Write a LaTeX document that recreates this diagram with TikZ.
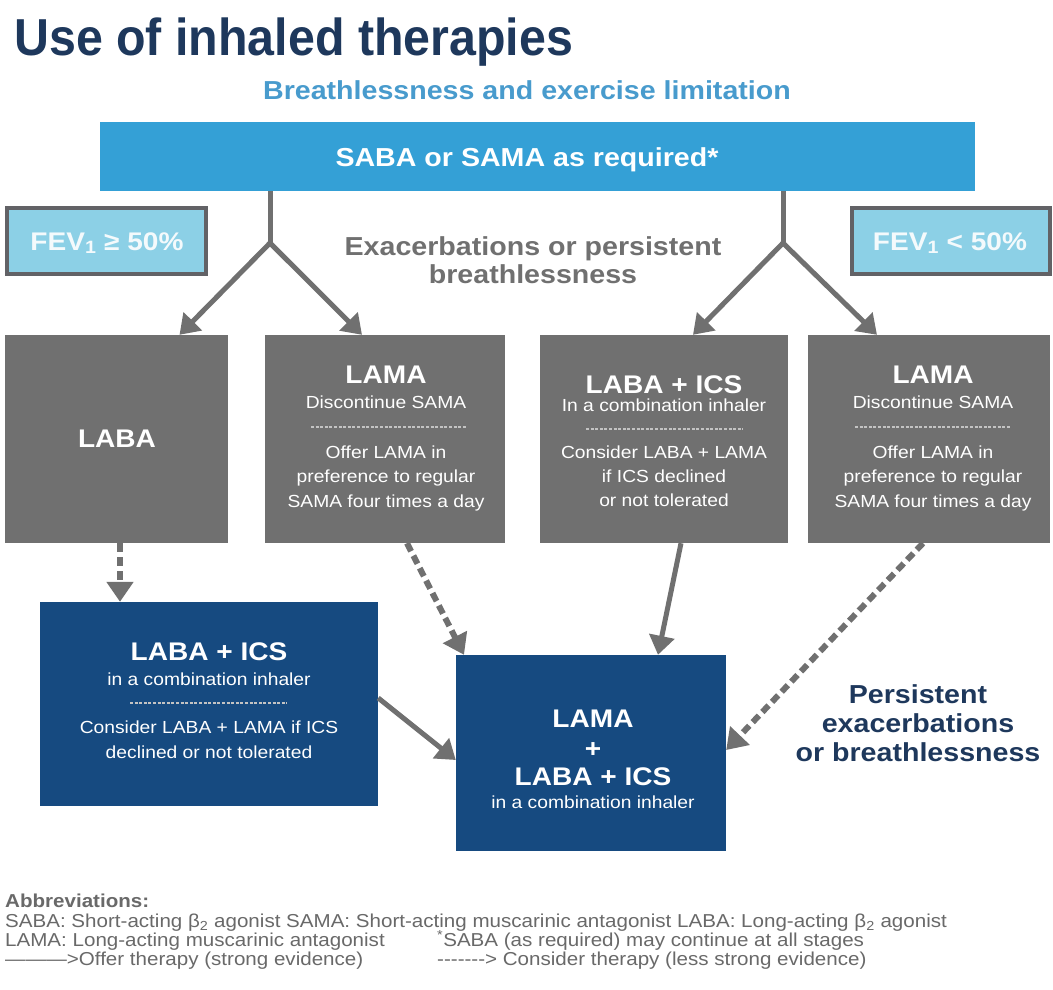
\documentclass[tikz,border=0pt]{standalone}
\usepackage{fontspec}
\setmainfont{Liberation Sans}[FakeStretch=1.1]
\newfontfamily\titlefont{Liberation Sans}[FakeStretch=0.93]
\usetikzlibrary{arrows.meta}

\definecolor{navy}{RGB}{30,56,92}
\definecolor{subblue}{RGB}{72,155,205}
\definecolor{barblue}{RGB}{52,160,214}
\definecolor{fevfill}{RGB}{140,208,230}
\definecolor{fevedge}{RGB}{98,98,102}
\definecolor{boxgrey}{RGB}{112,112,112}
\definecolor{linkgrey}{RGB}{112,112,112}
\definecolor{deepblue}{RGB}{22,74,128}
\definecolor{notegrey}{RGB}{105,105,105}
\definecolor{sepgrey}{RGB}{195,195,195}

\newcommand\setfs[1]{\fontsize{#1}{#1}\selectfont}
% plain hyphens kept apart so they do not merge into dashes
\newcommand\hy{-\kern0pt}

\begin{document}
\begin{tikzpicture}[x=1pt,y=-1pt,
  txt/.style={anchor=base, inner sep=0pt, outer sep=0pt},
  hd/.style={txt, font=\setfs{25.5}\bfseries, text=white},
  sm/.style={txt, font=\setfs{17.5}, text=white},
  greybox/.style={fill=boxgrey, inner sep=0pt, minimum height=208pt},
  bluebox/.style={fill=deepblue, inner sep=0pt},
  fevbox/.style={fill=fevfill, draw=fevedge, line width=4pt, inner sep=0pt,
    minimum height=66pt},
  sep/.style={draw=sepgrey, line width=1.3pt, dash pattern=on 3pt off 1.6pt},
  solidlink/.style={draw=linkgrey, line width=5pt,
    -{Triangle[width=25pt,length=19pt]}},
  dashlink/.style={draw=linkgrey, line width=6pt, dash pattern=on 9pt off 5pt,
    -{Triangle[width=26pt,length=20pt]}},
  branch/.style={draw=linkgrey, line width=5pt},
  note/.style={anchor=base west, inner sep=0pt, text=notegrey, font=\setfs{18.7}}
]
\useasboundingbox (0,0) rectangle (1053,989);
\fill[white] (0,0) rectangle (1053,989);

% heading
\node[anchor=base west, inner sep=0pt, text=navy, font=\titlefont\setfs{52}\bfseries]
  (title) at (14,55) {Use of inhaled therapies};
\node[txt, text=subblue, font=\setfs{26}\bfseries] (sub) at (527,99)
  {Breathlessness and exercise limitation};

% first-line bar
\node[fill=barblue, inner sep=0pt, minimum width=875pt, minimum height=69pt]
  (bar) at (537.5,156.5) {};
\node[txt, text=white, font=\setfs{26}\bfseries] (bartxt) at (527,166)
  {SABA or SAMA as required*};

% FEV1 boxes
\node[fevbox, minimum width=199pt] (fevl) at (106.5,241) {};
\node[txt, text=white!90!fevfill, font=\setfs{25.5}\bfseries] (fevltxt) at (107,250)
  {FEV\textsubscript{1} ≥ 50\%};
\node[fevbox, minimum width=198pt] (fevr) at (951,241) {};
\node[txt, text=white!90!fevfill, font=\setfs{25.5}\bfseries] (fevrtxt) at (950,250)
  {FEV\textsubscript{1} < 50\%};

% middle caption
\node[txt, text=boxgrey, font=\setfs{26}\bfseries] (exa1) at (533,255)
  {Exacerbations or persistent};
\node[txt, text=boxgrey, font=\setfs{26}\bfseries] (exa2) at (533,283)
  {breathlessness};

% second-line grey boxes
\node[greybox, minimum width=223pt] (laba) at (116.5,439) {};
\node[greybox, minimum width=240pt] (lamal) at (385,439) {};
\node[greybox, minimum width=248pt] (labaics) at (664,439) {};
\node[greybox, minimum width=242pt] (lamar) at (929,439) {};

\node[hd] (labat) at (117,447) {LABA};

\node[hd] (lamal1) at (386,383) {LAMA};
\node[sm] (lamal2) at (386,408) {Discontinue SAMA};
\draw[sep] (311,427) -- (466,427);
\node[sm] (lamal3) at (386,458) {Offer LAMA in};
\node[sm] (lamal4) at (386,482) {preference to regular};
\node[sm] (lamal5) at (386,507) {SAMA four times a day};

\node[hd] (labaics1) at (664,393) {LABA + ICS};
\node[sm] (labaics2) at (664,411) {In a combination inhaler};
\draw[sep] (586,429) -- (743,429);
\node[sm] (labaics3) at (664,458) {Consider LABA + LAMA};
\node[sm] (labaics4) at (664,482) {if ICS declined};
\node[sm] (labaics5) at (664,506) {or not tolerated};

\node[hd] (lamar1) at (933,383) {LAMA};
\node[sm] (lamar2) at (933,408) {Discontinue SAMA};
\draw[sep] (855,427) -- (1010,427);
\node[sm] (lamar3) at (933,458) {Offer LAMA in};
\node[sm] (lamar4) at (933,482) {preference to regular};
\node[sm] (lamar5) at (933,507) {SAMA four times a day};

% third-line blue boxes
\node[bluebox, minimum width=338pt, minimum height=204pt] (comb) at (209,704) {};
\node[hd] (comb1) at (209,660) {LABA + ICS};
\node[sm] (comb2) at (209,685) {in a combination inhaler};
\draw[sep] (130,703) -- (287,703);
\node[sm] (comb3) at (209,733) {Consider LABA + LAMA if ICS};
\node[sm] (comb4) at (209,758) {declined or not tolerated};

\node[bluebox, minimum width=270pt, minimum height=196pt] (triple) at (591,753) {};
\node[hd] (triple1) at (593,727) {LAMA};
\node[hd] (triple2) at (593,757) {+};
\node[hd] (triple3) at (593,785) {LABA + ICS};
\node[sm] (triple4) at (593,808) {in a combination inhaler};

\node[txt, text=navy, font=\setfs{26}\bfseries] (pers1) at (918,703) {Persistent};
\node[txt, text=navy, font=\setfs{26}\bfseries] (pers2) at (918,732) {exacerbations};
\node[txt, text=navy, font=\setfs{26}\bfseries] (pers3) at (918,761) {or breathlessness};

% branching connectors
\coordinate (jl) at (270,243);
\coordinate (jr) at (783,243);
\draw[branch] (bar.south -| jl) -- (jl);
\draw[branch] (bar.south -| jr) -- (jr);
\draw[solidlink] (jl) -- ([xshift=63pt]laba.north);
\draw[solidlink] (jl) -- ([xshift=-23pt]lamal.north);
\draw[solidlink] (jr) -- ([xshift=29pt]labaics.north);
\draw[solidlink] (jr) -- ([xshift=-52pt]lamar.north);

% escalation connectors
\draw[dashlink] ([xshift=3.5pt]laba.south) -- ([xshift=-89pt]comb.north);
\draw[dashlink] ([xshift=22pt]lamal.south) -- ([xshift=-127pt]triple.north);
\draw[solidlink] ([xshift=17pt]labaics.south) -- ([xshift=67pt]triple.north);
\draw[dashlink] ([xshift=-6pt]lamar.south) -- ([yshift=3pt]triple.east);
\draw[solidlink] ([yshift=6pt]comb.east) -- ([yshift=-7pt]triple.west);

% abbreviations
\node[note, font=\setfs{18.7}\bfseries] (abbr) at (5,907) {Abbreviations:};
\node[note] (ab1) at (5,927)
  {SABA: Short-acting β\textsubscript{2} agonist SAMA: Short-acting muscarinic antagonist LABA: Long-acting β\textsubscript{2} agonist};
\node[note] (ab2) at (5,946) {LAMA: Long-acting muscarinic antagonist};
\node[note] (ab3) at (437,946) {\textsuperscript{*}SABA (as required) may continue at all stages};
\node[note] (ab4) at (5,965) {———>Offer therapy (strong evidence)};
\node[note] (ab5) at (437,965) {\hy\hy\hy\hy\hy\hy\hy> Consider therapy (less strong evidence)};
\end{tikzpicture}
\end{document}
